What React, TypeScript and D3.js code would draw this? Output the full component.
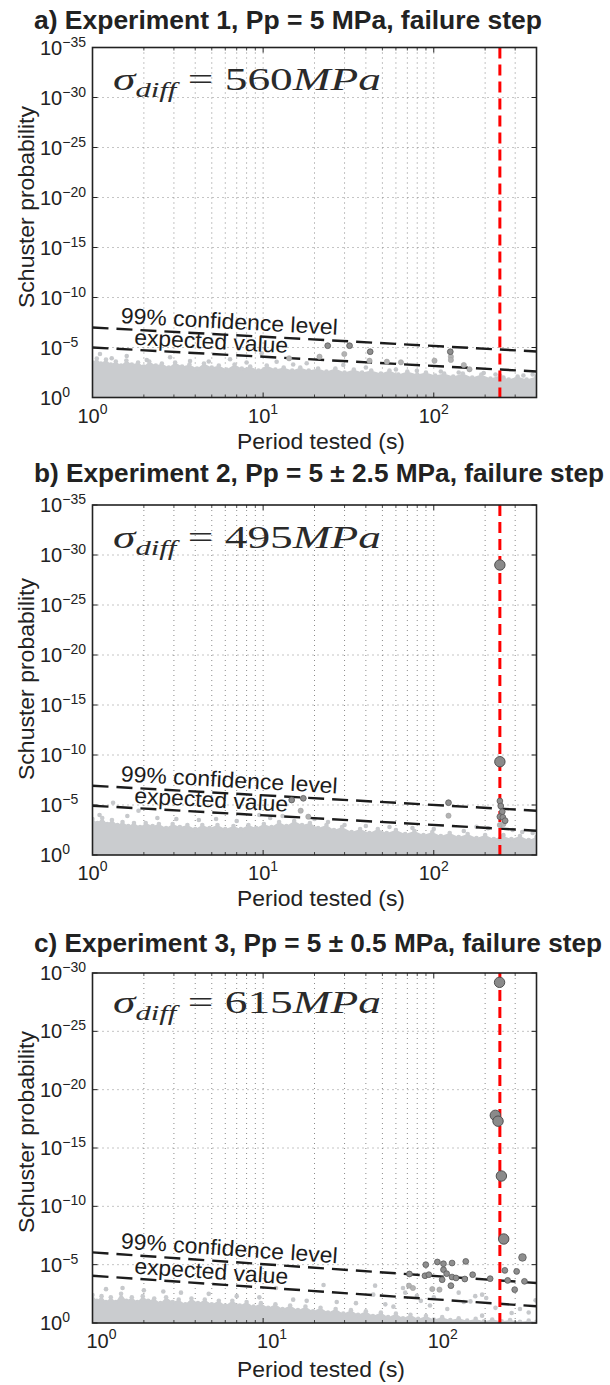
import React from "react";
import * as d3 from "d3";

// ---------- data (period in s, value = -log10(Schuster probability)) ----------
const panelTitles = [
  "a) Experiment 1, Pp = 5 MPa, failure step",
  "b) Experiment 2, Pp = 5 ± 2.5 MPa, failure step",
  "c) Experiment 3, Pp = 5 ± 0.5 MPa, failure step",
];
const sigmaDiffMPa = ["560", "495", "615"];
const yMaxExponent = [35, 35, 30];
const periodDomain: [number, number] = [1, 400];
const xTickPeriods = [1, 10, 100];
const xGridPeriods = [2, 3, 4, 5, 6, 7, 8, 9, 10, 20, 30, 40, 50, 60, 70, 80, 90, 100, 200, 300];
const failurePeriods = [244, 244, 244];

// dashed reference lines: [period, -log10 p]
const confidenceA: [number, number][] = [[1, 7.0], [400, 4.6]];
const expectedA: [number, number][] = [[1, 5.0], [400, 2.6]];
const confidenceB: [number, number][] = [[1, 6.93], [400, 4.43]];
const expectedB: [number, number][] = [[1, 4.93], [400, 2.43]];
const confidenceC: [number, number][] = [[1, 6.05], [400, 3.43]];
const expectedC: [number, number][] = [[1, 4.05], [400, 1.43]];

// upper edge of the dense cloud of non-significant periods
const cloudA: [number, number][] = [
  [1.0, 3.5], [1.06, 3.9], [1.12, 3.4], [1.2, 3.8], [1.28, 3.3], [1.37, 3.6], [1.47, 3.2], [1.58, 3.7],
  [1.7, 3.3], [1.85, 3.5], [2.0, 3.1], [2.15, 3.6], [2.35, 3.2], [2.55, 3.4], [2.8, 3.0], [3.05, 3.5],
  [3.35, 3.1], [3.7, 3.3], [4.1, 2.9], [4.5, 3.4], [5.0, 3.0], [5.5, 3.2], [6.1, 2.8], [6.8, 3.3],
  [7.5, 2.9], [8.4, 3.1], [9.4, 2.7], [10.5, 3.2], [11.8, 2.8], [13.2, 3.0], [14.8, 2.7], [16.5, 3.0],
  [18.5, 2.7], [21, 2.9], [23.5, 2.6], [26.5, 2.9], [30, 2.5], [34, 2.8], [38, 2.5], [43, 2.7],
  [49, 2.4], [55, 2.7], [62, 2.3], [70, 2.6], [80, 2.3], [90, 2.5], [102, 2.2], [115, 2.4],
  [130, 2.1], [148, 2.4], [168, 2.0], [190, 2.3], [215, 1.9], [245, 2.2], [275, 1.8], [310, 2.1],
  [350, 1.8], [400, 2.1],
];
const cloudB: [number, number][] = [
  [1.0, 3.6], [1.07, 3.2], [1.14, 3.7], [1.22, 3.1], [1.3, 3.5], [1.4, 3.0], [1.5, 3.3], [1.62, 2.9],
  [1.75, 3.2], [1.9, 2.8], [2.05, 3.2], [2.25, 2.9], [2.45, 3.1], [2.7, 2.7], [2.95, 3.1], [3.25, 2.8],
  [3.6, 3.0], [4.0, 2.6], [4.4, 3.0], [4.85, 2.7], [5.4, 3.0], [6.0, 2.6], [6.7, 2.9], [7.4, 2.6],
  [8.2, 3.0], [9.1, 2.7], [10.1, 3.1], [11.2, 2.8], [12.4, 3.3], [13.7, 2.9], [15.2, 3.4], [16.9, 3.0],
  [18.8, 3.2], [21, 2.7], [23.5, 3.0], [26, 2.5], [29, 2.8], [33, 2.3], [37, 2.6], [42, 2.2],
  [47, 2.6], [53, 2.2], [60, 2.5], [68, 2.1], [77, 2.4], [87, 2.0], [98, 2.3], [110, 1.9],
  [124, 2.2], [140, 1.8], [158, 2.1], [178, 1.7], [200, 2.0], [225, 1.6], [255, 1.9], [285, 1.6],
  [320, 1.9], [360, 1.5], [400, 1.8],
];
const cloudC: [number, number][] = [
  [1.0, 2.4], [1.06, 1.9], [1.13, 2.3], [1.2, 1.8], [1.28, 2.2], [1.37, 1.8], [1.47, 2.5], [1.58, 1.9],
  [1.7, 2.2], [1.83, 1.8], [1.97, 2.3], [2.12, 1.9], [2.3, 2.1], [2.5, 1.7], [2.7, 2.2], [2.95, 1.8],
  [3.2, 2.0], [3.5, 1.6], [3.8, 2.1], [4.15, 1.7], [4.55, 2.0], [5.0, 1.6], [5.5, 1.9], [6.0, 1.5],
  [6.6, 1.9], [7.3, 1.5], [8.0, 1.8], [8.8, 1.4], [9.7, 1.7], [10.7, 1.3], [11.8, 1.6], [13, 1.2],
  [14.4, 1.5], [16, 1.1], [17.7, 1.4], [19.6, 1.0], [21.7, 1.3], [24, 0.9], [26.6, 1.2], [29.5, 0.8],
  [32.7, 1.1], [36, 0.7], [40, 1.0], [44, 0.6], [49, 0.9], [54, 0.5], [60, 0.8], [66, 0.4],
  [73, 0.7], [81, 0.35], [90, 0.6], [100, 0.3], [112, 0.5], [125, 0.25], [140, 0.4], [157, 0.2],
  [176, 0.35], [197, 0.15], [220, 0.3], [250, 0.15], [280, 0.25], [320, 0.1], [360, 0.2], [400, 0.1],
];

// scattered light points above the cloud
const lightA: [number, number][] = [
  [1.106, 4.35], [1.296, 3.92], [1.587, 4.15], [2.08, 3.75], [2.85, 4.02], [3.73, 3.65], [4.8, 3.6],
  [6.4, 3.82], [8.0, 3.5], [9.8, 4.42], [12.0, 3.58], [15, 3.3], [18.0, 3.42], [29.5, 3.25], [40, 3.0],
  [60, 2.8], [79.6, 2.68], [110, 2.6], [140, 2.5], [196, 2.45], [230, 2.3], [256, 2.0], [335, 2.2], [380, 2.3],
];
const lightB: [number, number][] = [
  [1.1, 4.0], [1.32, 5.23], [1.6, 3.9], [1.86, 4.43], [2.4, 3.7], [3.1, 3.6], [4.2, 3.5], [5.3, 3.6],
  [7, 3.4], [9.5, 4.0], [11, 3.7], [13, 3.9], [20, 3.6], [24, 3.3], [30, 3.0], [40, 2.9], [55, 2.8],
  [75, 2.7], [100, 2.6], [150, 2.4], [178, 2.83], [208, 2.67], [244, 1.6], [256, 2.0], [290, 2.5],
  [330, 2.3], [380, 2.2],
];
const lightC: [number, number][] = [
  [1.2, 2.9], [1.5, 3.0], [2.0, 2.8], [2.6, 2.7], [3.3, 2.6], [4.8, 2.5], [7.0, 2.3], [9.5, 2.2],
  [11.9, 3.0], [15, 2.0], [18, 1.9], [22.6, 3.26], [27, 1.8], [35, 1.7], [44.2, 2.43], [45.3, 3.2],
  [52, 1.6], [58, 1.4], [66, 3.0], [68, 2.6], [75.5, 3.0], [79.6, 2.34], [84, 1.9], [95, 1.5],
  [100, 2.2], [120, 1.2], [140, 2.6], [150, 1.8], [164, 1.85], [175, 2.3], [192, 2.43], [192, 0.63],
  [203, 2.14], [230, 1.3], [286, 0.86], [320, 1.2], [360, 0.9], [395, 1.94],
];

// medium grey points
const midA: [number, number][] = [
  [14.2, 3.92], [21.4, 4.08], [29.9, 4.35], [42, 3.68], [53.1, 3.58], [64.2, 3.52], [101, 3.68],
  [126, 4.08], [126, 3.75], [150, 3.25], [162, 2.82],
];
const midB: [number, number][] = [[16.6, 4.43], [18.4, 3.83], [122, 3.93], [244, 3.0], [256, 3.1]];
const midC: [number, number][] = [[71.6, 3.2], [75.5, 3.0], [98, 2.91], [108, 2.86]];

// dark grey (significant) points
const darkA: [number, number][] = [[23.9, 5.18], [32.1, 5.18], [42.4, 4.58], [125, 4.58]];
const darkB: [number, number][] = [
  [14.7, 5.5], [17.2, 5.67], [122, 5.23], [244, 5.4], [247, 4.9], [252, 4.33], [244, 3.83],
  [254, 3.77], [262, 3.43],
];
const darkC: [number, number][] = [
  [72, 4.2], [88.8, 4.05], [89.8, 5.0], [93.6, 4.14], [105, 5.23], [112, 3.71], [114, 5.08],
  [114, 4.57], [119, 4.23], [126, 3.2], [128, 5.14], [128, 3.94], [135, 3.86], [152, 3.77],
  [154, 5.28], [169, 4.14], [214, 3.8], [261, 4.51], [271, 3.65], [298, 2.86], [306, 4.42],
  [340, 3.57],
];
const darkLargeC: [number, number][] = [[331, 5.62]];

// very significant points at the failure period
const bigA: [number, number][] = [];
const bigB: [number, number][] = [[244, 29.0], [244, 9.33]];
const bigC: [number, number][] = [[243, 29.2], [229.5, 17.8], [238, 17.3], [249, 12.6], [257, 7.2]];

// ---------- layout ----------
const FONT = "'Liberation Sans', Arial, Helvetica, sans-serif";
const SERIF = "'Liberation Serif', 'Times New Roman', serif";
const LEFT = 92.5;
const RIGHT = 536.5;
const PH = 350;

type PanelCfg = {
  top: number;
  titleY: number;
  titleLen: number;
  ylabelCenter: number;
  xlabelY: number;
  xTickShift: number;
  sigmaDy: number;
  cloud: [number, number][];
  light: [number, number][];
  mid: [number, number][];
  dark: [number, number][];
  darkLarge: [number, number][];
  big: [number, number][];
  conf: [number, number][];
  expd: [number, number][];
};

const panels: PanelCfg[] = [
  { top: 47.5, titleY: 28.5, titleLen: 508, ylabelCenter: 207, xlabelY: 448.5, xTickShift: 0, sigmaDy: 42.5,
    cloud: cloudA, light: lightA, mid: midA, dark: darkA, darkLarge: [], big: bigA, conf: confidenceA, expd: expectedA },
  { top: 505, titleY: 482, titleLen: 570, ylabelCenter: 679, xlabelY: 905.5, xTickShift: 0, sigmaDy: 42.5,
    cloud: cloudB, light: lightB, mid: midB, dark: darkB, darkLarge: [], big: bigB, conf: confidenceB, expd: expectedB },
  { top: 973, titleY: 952, titleLen: 568, ylabelCenter: 1132, xlabelY: 1377, xTickShift: 9, sigmaDy: 40,
    cloud: cloudC, light: lightC, mid: midC, dark: darkC, darkLarge: darkLargeC, big: bigC, conf: confidenceC, expd: expectedC },
];

function Panel({ idx }: { idx: number }) {
  const cfg = panels[idx];
  const maxE = yMaxExponent[idx];
  const top = cfg.top;
  const bottom = top + PH;
  const x = d3.scaleLog().domain(periodDomain).range([LEFT, RIGHT]);
  const y = d3.scaleLog().domain([1, Math.pow(10, -maxE)]).range([bottom, top]);
  const py = (e: number) => y(Math.pow(10, -e));
  const clipId = `clip${idx}`;

  const area = d3
    .area<[number, number]>()
    .x((d) => x(d[0]))
    .y0(bottom)
    .y1((d) => py(d[1]));
  const line = d3
    .line<[number, number]>()
    .x((d) => x(d[0]))
    .y((d) => py(d[1]));

  const yTickExps = d3.range(0, maxE + 1, 5);
  const gridExps = yTickExps.filter((e) => e > 0 && e < maxE);

  const lineAt = (pts: [number, number][], T: number) => {
    const t = Math.log10(T) / Math.log10(pts[1][0] / pts[0][0]);
    return pts[0][1] + (pts[1][1] - pts[0][1]) * t;
  };
  const angle =
    (Math.atan2(py(cfg.conf[1][1]) - py(cfg.conf[0][1]), x(cfg.conf[1][0]) - x(cfg.conf[0][0])) * 180) / Math.PI;
  const l1T = 1.46;
  const l2T = 1.75;
  const l1x = x(l1T);
  const l1y = py(lineAt(cfg.conf, l1T)) - 6;
  const l2x = x(l2T);
  const l2y = py(lineAt(cfg.expd, l2T)) - 5;

  const cloudFill = "#cacccf";

  return (
    <g>
      <defs>
        <clipPath id={clipId}>
          <rect x={LEFT} y={top} width={RIGHT - LEFT} height={PH} />
        </clipPath>
      </defs>
      <text x={34} y={cfg.titleY} fontFamily={FONT} fontWeight="bold" fontSize={25} fill="#222"
        textLength={cfg.titleLen} lengthAdjust="spacingAndGlyphs">
        {panelTitles[idx]}
      </text>

      <g clipPath={`url(#${clipId})`}>
        {xGridPeriods.map((p) => (
          <line key={`gx${p}`} x1={x(p)} x2={x(p)} y1={top} y2={bottom} stroke="#8a8a8a" strokeWidth={1}
            strokeDasharray="1,4" />
        ))}
        {gridExps.map((e) => (
          <line key={`gy${e}`} x1={LEFT} x2={RIGHT} y1={py(e)} y2={py(e)} stroke="#8a8a8a" strokeWidth={1}
            strokeDasharray="1,4" />
        ))}
        <path d={area(cfg.cloud) || ""} fill={cloudFill} />
        {cfg.cloud.map((d, i) => (
          <circle key={`cc${i}`} cx={x(d[0])} cy={py(d[1])} r={2.3} fill={cloudFill} />
        ))}
        {cfg.light.map((d, i) => (
          <circle key={`lt${i}`} cx={x(d[0])} cy={py(d[1])} r={2.3} fill="#c6c8cb" />
        ))}
        <path d={line(cfg.conf) || ""} fill="none" stroke="#1c1c1c" strokeWidth={2.4} strokeDasharray="16,8" />
        <path d={line(cfg.expd) || ""} fill="none" stroke="#1c1c1c" strokeWidth={2.4} strokeDasharray="16,8" />
        <line x1={x(failurePeriods[idx])} x2={x(failurePeriods[idx])} y1={top} y2={bottom} stroke="#ff0000"
          strokeWidth={3} strokeDasharray="11,6" />
        {cfg.mid.map((d, i) => (
          <circle key={`md${i}`} cx={x(d[0])} cy={py(d[1])} r={2.6} fill="#b3b3b3" stroke="#a0a0a0" strokeWidth={0.6} />
        ))}
        {cfg.dark.map((d, i) => (
          <circle key={`dk${i}`} cx={x(d[0])} cy={py(d[1])} r={2.9} fill="#8e8e8e" stroke="#5a5a5a" strokeWidth={0.8} />
        ))}
        {cfg.darkLarge.map((d, i) => (
          <circle key={`dl${i}`} cx={x(d[0])} cy={py(d[1])} r={3.8} fill="#8e8e8e" stroke="#5a5a5a" strokeWidth={0.8} />
        ))}
        {cfg.big.map((d, i) => (
          <circle key={`bg${i}`} cx={x(d[0])} cy={py(d[1])} r={5.2} fill="#8a8a8a" stroke="#505050" strokeWidth={1} />
        ))}
      </g>

      <text transform={`translate(${l1x},${l1y}) rotate(${angle})`} fontFamily={FONT} fontSize={22} fill="#1c1c1c"
        textLength={217} lengthAdjust="spacingAndGlyphs">
        99% confidence level
      </text>
      <text transform={`translate(${l2x},${l2y}) rotate(${angle})`} fontFamily={FONT} fontSize={22} fill="#1c1c1c"
        textLength={154} lengthAdjust="spacingAndGlyphs">
        expected value
      </text>

      <text x={LEFT + 20.5} y={top + cfg.sigmaDy} fontFamily={SERIF} fontSize={31} fill="#2a2a2a"
        textLength={268} lengthAdjust="spacingAndGlyphs">
        <tspan fontStyle="italic">σ</tspan>
        <tspan fontStyle="italic" fontSize={21} dy={7}>diff</tspan>
        <tspan dy={-7}>{" = " + sigmaDiffMPa[idx]}</tspan>
        <tspan fontStyle="italic">MPa</tspan>
      </text>

      <rect x={LEFT} y={top} width={RIGHT - LEFT} height={PH} fill="none" stroke="#222" strokeWidth={1.6} />
      {yTickExps.map((e) => (
        <g key={`yt${e}`}>
          <line x1={LEFT} x2={LEFT + 5} y1={py(e)} y2={py(e)} stroke="#222" strokeWidth={1} />
          <line x1={RIGHT} x2={RIGHT - 5} y1={py(e)} y2={py(e)} stroke="#222" strokeWidth={1} />
          <text x={40} y={py(e) + 7} fontFamily={FONT} fontSize={20} fill="#222">
            10
            <tspan fontSize={14} dy={-8}>{e === 0 ? "0" : "−" + e}</tspan>
          </text>
        </g>
      ))}
      {xTickPeriods.map((p) => (
        <g key={`xt${p}`}>
          <line x1={x(p)} x2={x(p)} y1={bottom} y2={bottom - 5} stroke="#222" strokeWidth={1} />
          <line x1={x(p)} x2={x(p)} y1={top} y2={top + 5} stroke="#222" strokeWidth={1} />
          <text x={x(p) + cfg.xTickShift} y={bottom + 25} textAnchor="middle" fontFamily={FONT} fontSize={20}
            fill="#222">
            10
            <tspan fontSize={14} dy={-9}>{String(Math.round(Math.log10(p)))}</tspan>
          </text>
        </g>
      ))}
      {xGridPeriods.filter((p) => !xTickPeriods.includes(p)).map((p) => (
        <g key={`xm${p}`}>
          <line x1={x(p)} x2={x(p)} y1={bottom} y2={bottom - 3} stroke="#222" strokeWidth={0.8} />
          <line x1={x(p)} x2={x(p)} y1={top} y2={top + 3} stroke="#222" strokeWidth={0.8} />
        </g>
      ))}

      <text x={321} y={cfg.xlabelY} textAnchor="middle" fontFamily={FONT} fontSize={22} fill="#222"
        textLength={168} lengthAdjust="spacingAndGlyphs">
        Period tested (s)
      </text>
      <text transform={`translate(34,${cfg.ylabelCenter}) rotate(-90)`} textAnchor="middle" fontFamily={FONT}
        fontSize={22} fill="#222" textLength={202} lengthAdjust="spacingAndGlyphs">
        Schuster probability
      </text>
    </g>
  );
}

export default function App() {
  return (
    <svg width={610} height={1385} viewBox="0 0 610 1385"
      style={{ position: "absolute", left: 0, top: 0, display: "block", background: "#fff" }}>
      <rect x={0} y={0} width={610} height={1385} fill="#fff" />
      {panels.map((_, i) => (
        <Panel key={i} idx={i} />
      ))}
    </svg>
  );
}
